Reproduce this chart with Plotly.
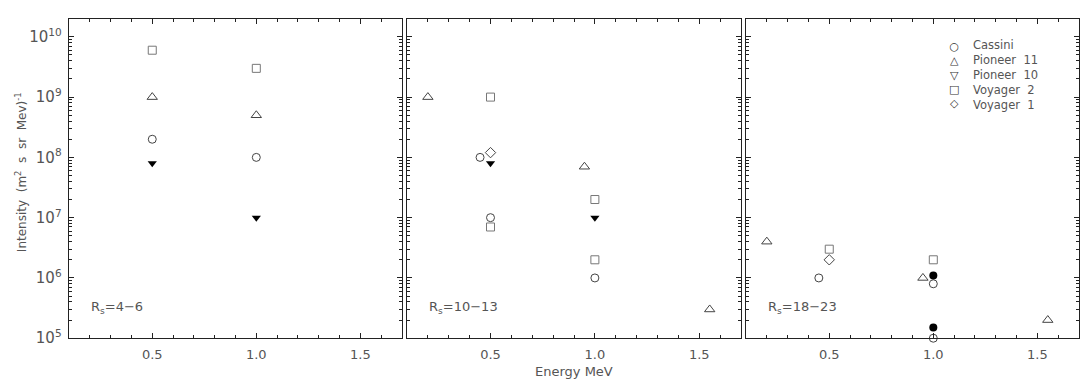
import plotly.graph_objects as go
from plotly.subplots import make_subplots

# ---- data ----
# panel 1: Rs = 4-6
p1_cassini_x = [0.5, 1.0]
p1_cassini_y = [2e8, 1e8]
p1_pio11_x = [0.5, 1.0]
p1_pio11_y = [1e9, 5e8]
p1_pio10_x = [0.5, 1.0]
p1_pio10_y = [8e7, 1e7]
p1_voy2_x = [0.5, 1.0]
p1_voy2_y = [6e9, 3e9]

# panel 2: Rs = 10-13
p2_cassini_x = [0.45, 0.5, 1.0]
p2_cassini_y = [1e8, 1e7, 1e6]
p2_pio11_x = [0.2, 0.95, 1.55]
p2_pio11_y = [1e9, 7e7, 3e5]
p2_pio10_x = [0.5, 1.0]
p2_pio10_y = [8e7, 1e7]
p2_voy2_x = [0.5, 0.5, 1.0, 1.0]
p2_voy2_y = [1e9, 7e6, 2e7, 2e6]
p2_voy1_x = [0.5]
p2_voy1_y = [1.2e8]

# panel 3: Rs = 18-23
p3_cassini_x = [0.45, 1.0, 1.0]
p3_cassini_y = [1e6, 8e5, 1e5]
p3_pio11_x = [0.2, 0.95, 1.55]
p3_pio11_y = [4e6, 1e6, 2e5]
p3_voy2_x = [0.5, 1.0]
p3_voy2_y = [3e6, 2e6]
p3_voy1_x = [0.5]
p3_voy1_y = [2e6]
p3_filled_x = [1.0, 1.0]
p3_filled_y = [1.1e6, 1.5e5]

panel_labels = ["R<sub>s</sub>=4\u22126", "R<sub>s</sub>=10\u221213", "R<sub>s</sub>=18\u221223"]
legend_names = ["Cassini", "Pioneer  11", "Pioneer  10", "Voyager  2", "Voyager  1"]
legend_syms = ["\u25cb", "\u25b3", "\u25bd", "\u25a1", "\u25c7"]

x_ticks = [0.5, 1.0, 1.5]
x_ticktext = ["0.5", "1.0", "1.5"]

FONT = "DejaVu Sans"
TXT = "#555555"
W, H = 1088, 391

styles = {
    "cassini": dict(symbol="circle-open", size=8, color="#444444", line=dict(width=1, color="#444444")),
    "pio11": dict(symbol="triangle-up-open", size=9, color="#444444", line=dict(width=1, color="#444444")),
    "pio10": dict(symbol="triangle-down", size=8, color="black", line=dict(width=0)),
    "voy2": dict(symbol="square-open", size=8, color="#777777", line=dict(width=1, color="#777777")),
    "voy1": dict(symbol="diamond-open", size=8, color="#444444", line=dict(width=1, color="#444444")),
    "filled": dict(symbol="circle", size=8, color="black", line=dict(width=0)),
}

panels = [
    [("Cassini", "cassini", p1_cassini_x, p1_cassini_y),
     ("Pioneer 11", "pio11", p1_pio11_x, p1_pio11_y),
     ("Pioneer 10", "pio10", p1_pio10_x, p1_pio10_y),
     ("Voyager 2", "voy2", p1_voy2_x, p1_voy2_y)],
    [("Cassini", "cassini", p2_cassini_x, p2_cassini_y),
     ("Pioneer 11", "pio11", p2_pio11_x, p2_pio11_y),
     ("Pioneer 10", "pio10", p2_pio10_x, p2_pio10_y),
     ("Voyager 2", "voy2", p2_voy2_x, p2_voy2_y),
     ("Voyager 1", "voy1", p2_voy1_x, p2_voy1_y)],
    [("Cassini", "cassini", p3_cassini_x, p3_cassini_y),
     ("Pioneer 11", "pio11", p3_pio11_x, p3_pio11_y),
     ("Voyager 2", "voy2", p3_voy2_x, p3_voy2_y),
     ("Voyager 1", "voy1", p3_voy1_x, p3_voy1_y),
     ("Cassini (filled)", "filled", p3_filled_x, p3_filled_y)],
]

fig = make_subplots(rows=1, cols=3)

for col, traces in enumerate(panels, start=1):
    for name, key, xs, ys in traces:
        fig.add_trace(go.Scatter(x=xs, y=ys, mode="markers", name=name,
                                 marker=styles[key], cliponaxis=False,
                                 showlegend=False), row=1, col=col)

# panel geometry in pixels
x_px = [(61, 394), (399, 733), (738, 1071)]
y_dom = [(H - 338) / H, (H - 11) / H]

for i, (a, b) in enumerate(x_px, start=1):
    fig.update_xaxes(domain=[a / W, b / W], range=[0.1, 1.7],
                     tickvals=x_ticks, ticktext=x_ticktext,
                     ticks="inside", ticklen=5, tickwidth=1, tickcolor="#222",
                     minor=dict(dtick=0.1, tick0=0.1, ticks="inside", ticklen=3,
                                tickcolor="#222", showgrid=False),
                     showline=True, linecolor="#222", linewidth=1, mirror="allticks",
                     showgrid=False, zeroline=False, ticklabelstandoff=4,
                     tickfont=dict(family=FONT, size=13, color=TXT),
                     row=1, col=i)
    fig.update_yaxes(domain=y_dom, type="log", range=[5, 10.3],
                     dtick=1, exponentformat="power",
                     ticks="inside", ticklen=5, tickwidth=1, tickcolor="#222",
                     minor=dict(dtick="D1", ticks="inside", ticklen=3,
                                tickcolor="#222", showgrid=False),
                     showline=True, linecolor="#222", linewidth=1, mirror="allticks",
                     showgrid=False, zeroline=False,
                     showticklabels=(i == 1), ticklabelstandoff=4,
                     tickfont=dict(family=FONT, size=12, color=TXT),
                     row=1, col=i)

annotations = []
for i, lab in enumerate(panel_labels, start=1):
    xref = "x domain" if i == 1 else f"x{i} domain"
    yref = "y domain" if i == 1 else f"y{i} domain"
    annotations.append(dict(text=lab, xref=xref, yref=yref, x=0.06, y=0.095,
                            xanchor="left", yanchor="middle", showarrow=False,
                            font=dict(family=FONT, size=13, color=TXT)))

# legend drawn as two text columns inside the third panel
leg_mid = (H - 69) / H
annotations.append(dict(text="<br>".join(legend_syms), xref="paper", yref="paper",
                        x=946 / W, y=leg_mid, xanchor="center", yanchor="middle",
                        align="center", borderpad=0, showarrow=False,
                        font=dict(family=FONT, size=11, color="#333")))
annotations.append(dict(text="<br>".join(legend_names), xref="paper", yref="paper",
                        x=964 / W, y=leg_mid, xanchor="left", yanchor="middle",
                        align="left", borderpad=0, showarrow=False,
                        font=dict(family=FONT, size=11.5, color=TXT)))

annotations.append(dict(text="Energy MeV", xref="paper", yref="paper",
                        x=566 / W, y=(H - 372) / H, xanchor="center", yanchor="middle",
                        showarrow=False, font=dict(family=FONT, size=13, color=TXT)))
annotations.append(dict(text="Intensity  (m<sup>2</sup>  s  sr  Mev)<sup>-1</sup>",
                        xref="paper", yref="paper", x=13 / W, y=(H - 168) / H,
                        xanchor="center", yanchor="middle", textangle=-90,
                        showarrow=False, font=dict(family=FONT, size=12, color=TXT)))

fig.update_layout(width=W, height=H, margin=dict(l=0, r=0, t=0, b=0),
                  plot_bgcolor="white", paper_bgcolor="white",
                  showlegend=False, annotations=annotations,
                  font=dict(family=FONT, color=TXT))

fig.write_html("out.html")
